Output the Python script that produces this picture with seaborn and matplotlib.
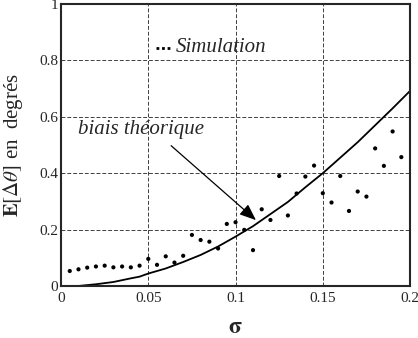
import numpy as np
import pandas as pd
import matplotlib
matplotlib.use("Agg")
import matplotlib.pyplot as plt
import seaborn as sns

# simulated bias (dots)
sim_sigma = [0.005, 0.01, 0.015, 0.02, 0.025, 0.03, 0.035, 0.04, 0.045, 0.05,
             0.055, 0.06, 0.065, 0.07, 0.075, 0.08, 0.085, 0.09, 0.095, 0.1,
             0.105, 0.11, 0.115, 0.12, 0.125, 0.13, 0.135, 0.14, 0.145, 0.15,
             0.155, 0.16, 0.165, 0.17, 0.175, 0.18, 0.185, 0.19, 0.195]
sim_bias = [0.053, 0.059, 0.065, 0.069, 0.072, 0.066, 0.069, 0.066, 0.072, 0.096,
            0.075, 0.105, 0.083, 0.107, 0.181, 0.163, 0.157, 0.133, 0.220, 0.226,
            0.199, 0.127, 0.272, 0.234, 0.390, 0.250, 0.328, 0.388, 0.427, 0.329,
            0.296, 0.390, 0.266, 0.335, 0.317, 0.488, 0.426, 0.548, 0.457]

# theoretical bias (solid line)
theo_sigma = [0.0, 0.01, 0.015, 0.02, 0.03, 0.04, 0.045, 0.05, 0.06, 0.07,
              0.08, 0.09, 0.1, 0.11, 0.12, 0.13, 0.14, 0.15, 0.16, 0.17,
              0.18, 0.19, 0.2]
theo_bias = [0.0, 0.0, 0.003, 0.006, 0.014, 0.027, 0.033, 0.044, 0.062, 0.085,
             0.11, 0.14, 0.175, 0.212, 0.255, 0.298, 0.35, 0.40, 0.455, 0.51,
             0.57, 0.63, 0.692]

x_ticks = [0, 0.05, 0.1, 0.15, 0.2]
x_labels = ["0", "0.05", "0.1", "0.15", "0.2"]
y_ticks = [0, 0.2, 0.4, 0.6, 0.8, 1]
y_labels = ["0", "0.2", "0.4", "0.6", "0.8", "1"]

sns.set_style("ticks")
plt.rcParams["font.family"] = ["Liberation Serif", "DejaVu Serif"]
plt.rcParams["mathtext.fontset"] = "stix"

fig = plt.figure(figsize=(4.18, 3.38), dpi=100)
ax = fig.add_axes([0.146, 0.154, 0.835, 0.834])

sns.lineplot(x=theo_sigma, y=theo_bias, ax=ax, color="black", linewidth=1.3)
sns.scatterplot(x=sim_sigma, y=sim_bias, ax=ax, color="black", s=9,
                edgecolor="none")

ax.set_xlim(0, 0.2)
ax.set_ylim(0, 1)
ax.set_xticks(x_ticks)
ax.set_xticklabels(x_labels, fontsize=11)
ax.set_yticks(y_ticks)
ax.set_yticklabels(y_labels, fontsize=11)
ax.tick_params(direction="in", length=0, pad=2)
ax.tick_params(axis="x", pad=4)

ax.grid(True, linestyle=(0, (4, 2)), color="black", linewidth=0.7, alpha=0.75)
for side in ax.spines.values():
    side.set_linewidth(1.5)

ax.set_xlabel(r"$\mathbf{\sigma}$", fontsize=17, family="DejaVu Sans",
              fontweight="bold", labelpad=7)
ax.set_ylabel(r"$\mathbf{E}[\Delta\theta]$ en  degrés", fontsize=15, labelpad=10)

# legend-like annotation
ax.plot([0.0545, 0.0625], [0.845, 0.845], color="black", linestyle=(0, (1, 1)),
        linewidth=2)
ax.text(0.066, 0.845, "Simulation", fontsize=15, style="italic", va="center")

# theoretical curve label with arrow
ax.text(0.01, 0.555, "biais théorique", fontsize=15, style="italic", va="center")
ax.annotate("", xy=(0.1129, 0.227), xytext=(0.0619, 0.504),
            arrowprops=dict(arrowstyle="-|>,head_length=1.0,head_width=0.4",
                            color="black", linewidth=0.9))

fig.savefig("out.png", dpi=100)
plt.close(fig)
